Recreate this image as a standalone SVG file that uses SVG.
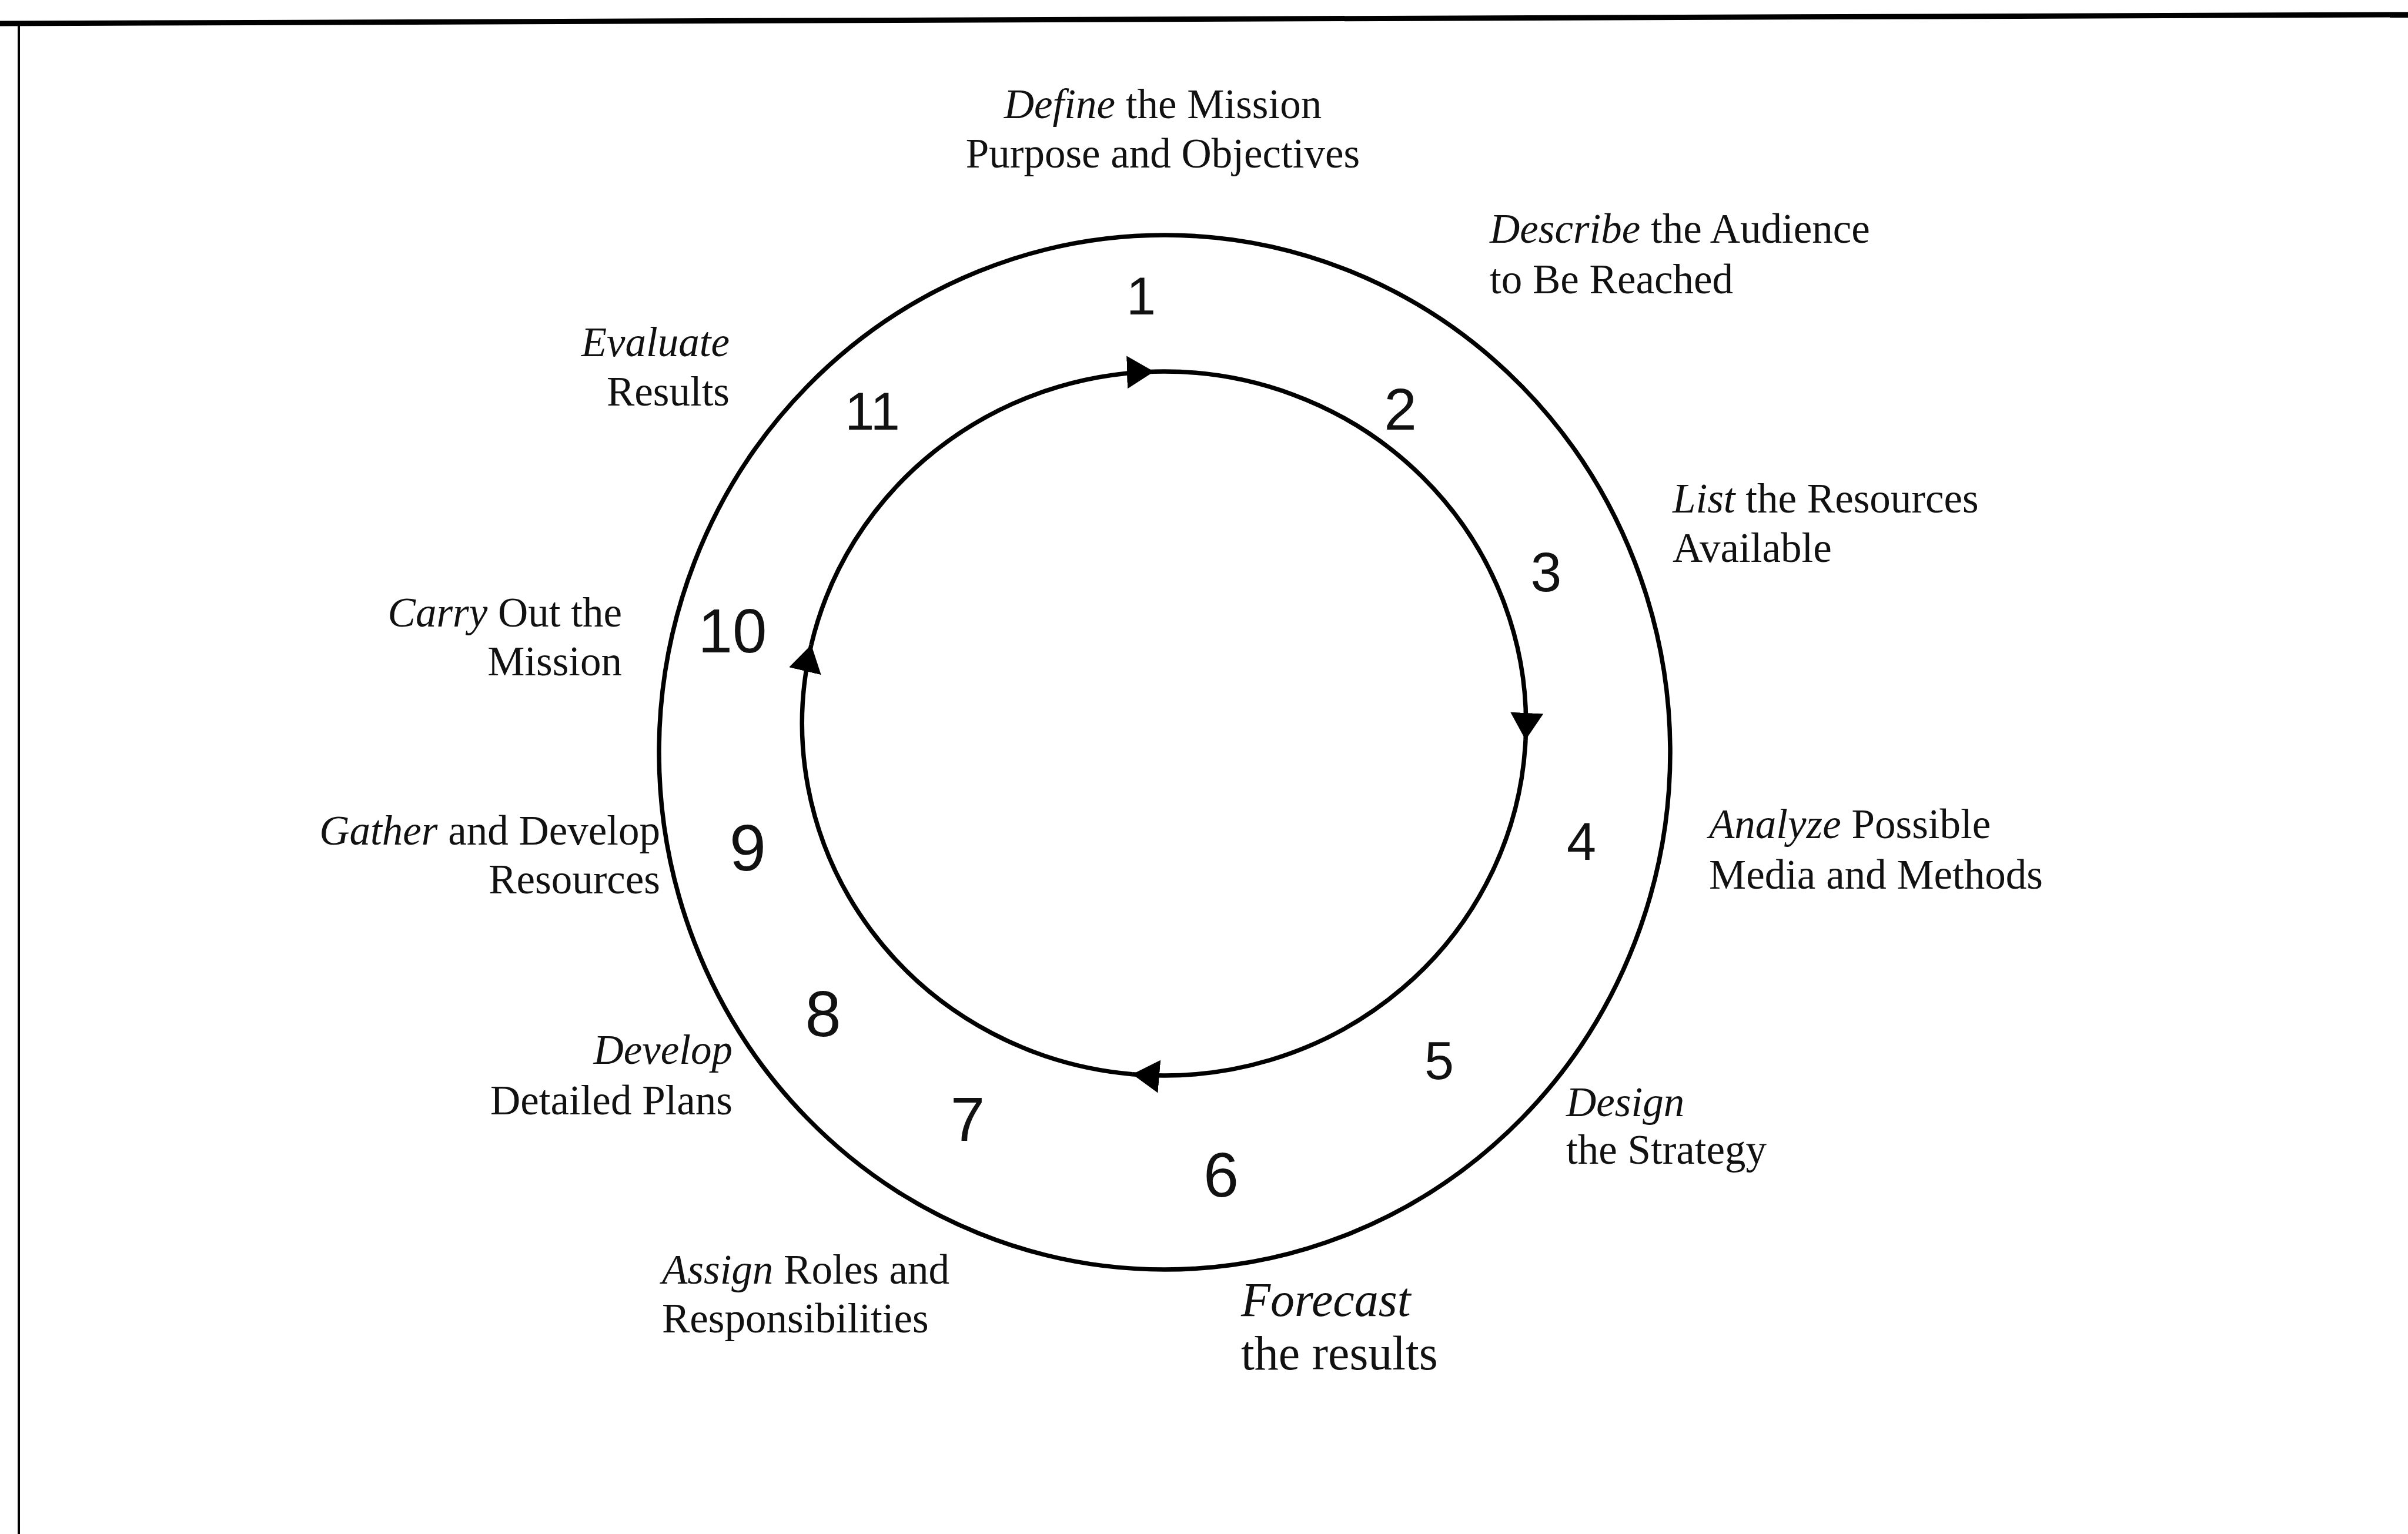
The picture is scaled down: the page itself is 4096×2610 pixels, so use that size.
<svg xmlns="http://www.w3.org/2000/svg" width="4096" height="2610" viewBox="0 0 4096 2610">
<style>
.lbl{font-family:"Liberation Serif","Times New Roman",serif;font-size:71px;fill:#111}
.big{font-size:82px}
.num{font-family:"Liberation Sans",Arial,sans-serif;font-weight:normal;fill:#111;text-anchor:middle}
.it{font-style:italic}
.ring{fill:none;stroke:#000;stroke-width:7.5}
.frame{fill:none;stroke:#000}
</style>
<defs>
<marker id="ah" viewBox="0 0 46 56" refX="46" refY="28" markerUnits="userSpaceOnUse" markerWidth="46" markerHeight="56" orient="auto">
<path d="M0,0 L46,28 L0,56 z" fill="#000"/>
</marker>
</defs>
<rect width="4096" height="2610" fill="#fff"/>
<g id="frame">
<path class="frame" d="M0,40 L4096,25" stroke-width="9"/>
<path class="frame" d="M32,38 L32,2610" stroke-width="4"/>
</g>
<g id="outer-ring">
<ellipse class="ring" cx="1981" cy="1280" rx="860" ry="880"/>
</g>
<g id="connectors">
<path class="ring" d="M1380,1097 A616,599 0 0 1 1963,632.2" marker-end="url(#ah)"/>
<path class="ring" d="M1963,632.2 A616,599 0 0 1 2595,1259" marker-end="url(#ah)"/>
<path class="ring" d="M2595,1259 A616,599 0 0 1 1926,1827.7" marker-end="url(#ah)"/>
<path class="ring" d="M1926,1827.7 A616,599 0 0 1 1380,1097" marker-end="url(#ah)"/>
</g>
<g id="node1">
<text class="lbl" x="1978" y="201" text-anchor="middle"><tspan class="it">Define</tspan> the Mission</text>
<text class="lbl" x="1978" y="285" text-anchor="middle">Purpose and Objectives</text>
<text class="num" x="1941" y="535" font-size="90">1</text>
</g>
<g id="node2">
<text class="lbl" x="2534" y="413"><tspan class="it">Describe</tspan> the Audience</text>
<text class="lbl" x="2534" y="499">to Be Reached</text>
<text class="num" x="2382" y="731" font-size="100">2</text>
</g>
<g id="node3">
<text class="lbl" x="2845" y="872"><tspan class="it">List</tspan> the Resources</text>
<text class="lbl" x="2845" y="956">Available</text>
<text class="num" x="2630" y="1006" font-size="95">3</text>
</g>
<g id="node4">
<text class="lbl" x="2907" y="1426"><tspan class="it">Analyze</tspan> Possible</text>
<text class="lbl" x="2907" y="1512">Media and Methods</text>
<text class="num" x="2690" y="1463" font-size="90">4</text>
</g>
<g id="node5">
<text class="lbl" x="2664" y="1899"><tspan class="it">Design</tspan></text>
<text class="lbl" x="2664" y="1980">the Strategy</text>
<text class="num" x="2448" y="1836" font-size="90">5</text>
</g>
<g id="node6">
<text class="lbl big" x="2111" y="2239"><tspan class="it">Forecast</tspan></text>
<text class="lbl big" x="2111" y="2330">the results</text>
<text class="num" x="2077" y="2036" font-size="108">6</text>
</g>
<g id="node7">
<text class="lbl" x="1126" y="2184"><tspan class="it">Assign</tspan> Roles and</text>
<text class="lbl" x="1126" y="2267">Responsibilities</text>
<text class="num" x="1646" y="1941" font-size="105">7</text>
</g>
<g id="node8">
<text class="lbl" x="1246" y="1810" text-anchor="end"><tspan class="it">Develop</tspan></text>
<text class="lbl" x="1246" y="1896" text-anchor="end">Detailed Plans</text>
<text class="num" x="1400" y="1763" font-size="110">8</text>
</g>
<g id="node9">
<text class="lbl" x="1123" y="1437" text-anchor="end"><tspan class="it">Gather</tspan> and Develop</text>
<text class="lbl" x="1123" y="1520" text-anchor="end">Resources</text>
<text class="num" x="1272" y="1481" font-size="112">9</text>
</g>
<g id="node10">
<text class="lbl" x="1058" y="1066" text-anchor="end"><tspan class="it">Carry</tspan> Out the</text>
<text class="lbl" x="1058" y="1149" text-anchor="end">Mission</text>
<text class="num" x="1246" y="1110" font-size="105">10</text>
</g>
<g id="node11">
<text class="lbl" x="1241" y="606" text-anchor="end"><tspan class="it">Evaluate</tspan></text>
<text class="lbl" x="1241" y="690" text-anchor="end">Results</text>
<text class="num" x="1484" y="731" font-size="90">11</text>
</g>
</svg>
